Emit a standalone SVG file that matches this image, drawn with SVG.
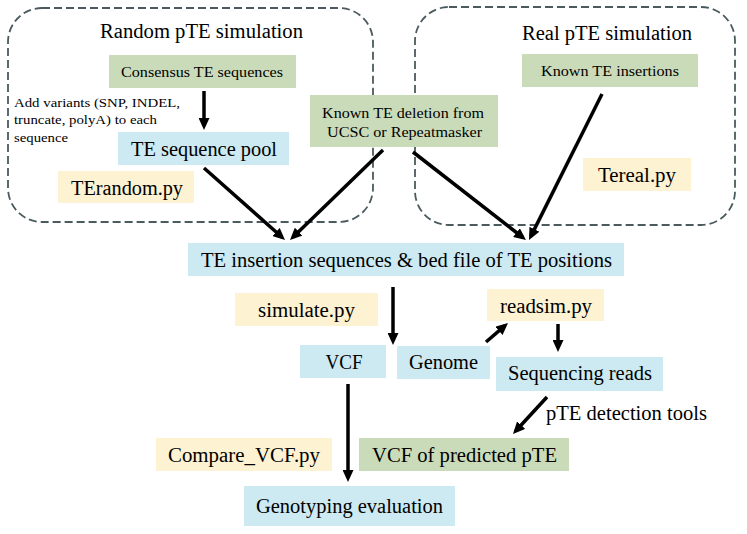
<svg xmlns="http://www.w3.org/2000/svg" width="747" height="534" viewBox="0 0 747 534">
<defs>
<marker id="ah" markerUnits="userSpaceOnUse" markerWidth="12" markerHeight="11" viewBox="0 0 12 11" refX="8" refY="5.5" orient="auto">
<path d="M0,0 L12,5.5 L0,11 z" fill="#000"/>
</marker>
<style>
.g{fill:#cadbb9}
.b{fill:#cde9f1}
.y{fill:#fdf2d2}
.grp{fill:none;stroke:#4a5a5e;stroke-width:1.8;stroke-dasharray:8,4}
.c line{stroke:#000;stroke-width:3.5;marker-end:url(#ah)}
.s14{font-size:14px}
.s20{font-size:20px}
.s13{font-size:13px}
</style>
</defs>
<rect width="747" height="534" fill="#fff"/>
<g font-family="'Liberation Serif', 'Times New Roman', 'DejaVu Serif', serif" fill="#000" lengthAdjust="spacingAndGlyphs">
<g id="group-random">
<rect class="grp" x="8" y="8" width="365" height="214" rx="34"/>
<text class="s20" x="100" y="38" textLength="203" lengthAdjust="spacingAndGlyphs">Random pTE simulation</text>
</g>
<g id="group-real">
<rect class="grp" x="415" y="7" width="320" height="218" rx="34"/>
<text class="s20" x="522" y="40" textLength="170" lengthAdjust="spacingAndGlyphs">Real pTE simulation</text>
</g>
<g id="consensus"><rect class="g" x="109" y="55" width="187" height="33"/><text class="s14" x="121" y="77" textLength="162" lengthAdjust="spacingAndGlyphs">Consensus TE sequences</text></g>
<g id="note"><text class="s13" x="14" y="107" textLength="166" lengthAdjust="spacingAndGlyphs">Add variants (SNP, INDEL,</text><text class="s13" x="14" y="124" textLength="143" lengthAdjust="spacingAndGlyphs">truncate, polyA) to each</text><text class="s13" x="14" y="142" textLength="54" lengthAdjust="spacingAndGlyphs">sequence</text></g>
<g id="pool"><rect class="b" x="118" y="132" width="171" height="33"/><text class="s20" x="131" y="156" textLength="146" lengthAdjust="spacingAndGlyphs">TE sequence pool</text></g>
<g id="terandom"><rect class="y" x="58" y="171" width="136" height="32"/><text class="s20" x="71" y="195" textLength="112" lengthAdjust="spacingAndGlyphs">TErandom.py</text></g>
<g id="deletion"><rect class="g" x="310" y="95" width="188" height="52"/><text class="s14" x="322" y="118" textLength="162" lengthAdjust="spacingAndGlyphs">Known TE deletion from</text><text class="s14" x="327" y="137" textLength="155" lengthAdjust="spacingAndGlyphs">UCSC or Repeatmasker</text></g>
<g id="insertions"><rect class="g" x="522" y="54" width="176" height="33"/><text class="s14" x="541" y="76" textLength="138" lengthAdjust="spacingAndGlyphs">Known TE insertions</text></g>
<g id="tereal"><rect class="y" x="583" y="158" width="108" height="33"/><text class="s20" x="598" y="182" textLength="78" lengthAdjust="spacingAndGlyphs">Tereal.py</text></g>
<g id="main"><rect class="b" x="188" y="243" width="436" height="33"/><text class="s20" x="201" y="267" textLength="411" lengthAdjust="spacingAndGlyphs">TE insertion sequences &amp; bed file of TE positions</text></g>
<g id="simulate"><rect class="y" x="235" y="293" width="143" height="33"/><text class="s20" x="258" y="317" textLength="97" lengthAdjust="spacingAndGlyphs">simulate.py</text></g>
<g id="readsim"><rect class="y" x="487" y="289" width="117" height="32"/><text class="s20" x="500" y="313" textLength="92" lengthAdjust="spacingAndGlyphs">readsim.py</text></g>
<g id="vcf"><rect class="b" x="300" y="345" width="86" height="33"/><text class="s20" x="325.5" y="369" textLength="37" lengthAdjust="spacingAndGlyphs">VCF</text></g>
<g id="genome"><rect class="b" x="397" y="346" width="93" height="33"/><text class="s20" x="409" y="369" textLength="69" lengthAdjust="spacingAndGlyphs">Genome</text></g>
<g id="reads"><rect class="b" x="496" y="357" width="167" height="34"/><text class="s20" x="508" y="380" textLength="144" lengthAdjust="spacingAndGlyphs">Sequencing reads</text></g>
<g id="compare"><rect class="y" x="156" y="438" width="176" height="33"/><text class="s20" x="168" y="462" textLength="152" lengthAdjust="spacingAndGlyphs">Compare_VCF.py</text></g>
<g id="predicted"><rect class="g" x="359" y="438" width="210" height="33"/><text class="s20" x="372" y="462" textLength="185" lengthAdjust="spacingAndGlyphs">VCF of predicted pTE</text></g>
<g id="genotyping"><rect class="b" x="244" y="486" width="211" height="40"/><text class="s20" x="256" y="513" textLength="187" lengthAdjust="spacingAndGlyphs">Genotyping evaluation</text></g>
<g id="tools-label"><text class="s20" x="546" y="420" textLength="161" lengthAdjust="spacingAndGlyphs">pTE detection tools</text></g>
</g>
<g id="connectors" class="c">
<line x1="204" y1="91" x2="204" y2="126"/>
<line x1="204" y1="168" x2="282" y2="237.3"/>
<line x1="383" y1="150" x2="292.9" y2="237.2"/>
<line x1="413" y1="152" x2="522.8" y2="237.5"/>
<line x1="602" y1="94" x2="530.8" y2="236.4"/>
<line x1="393" y1="287" x2="393" y2="341"/>
<line x1="486" y1="342" x2="505" y2="325.6"/>
<line x1="558" y1="324" x2="558" y2="348"/>
<line x1="547" y1="397" x2="515.7" y2="431"/>
<line x1="348" y1="384" x2="348" y2="478"/>
</g>
</svg>
